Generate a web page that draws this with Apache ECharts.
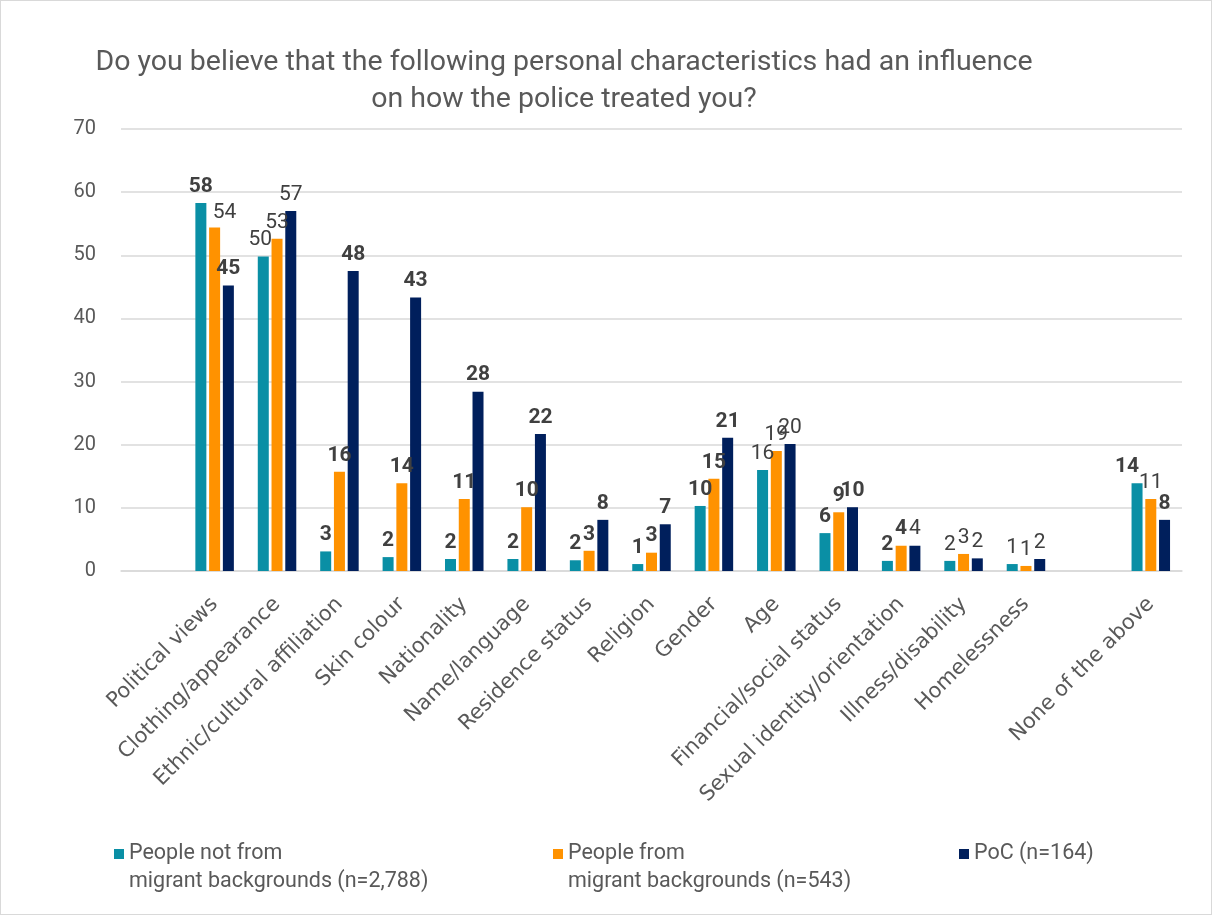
<!DOCTYPE html>
<html>
<head>
<meta charset="UTF-8">
<title>Police treatment survey</title>
<script src="https://cdn.jsdelivr.net/npm/echarts@6/dist/echarts.min.js"></script>
<style>
html,body{margin:0;padding:0;background:#fff}
#main{width:1210px;height:913px;border:1px solid #d9d9d9}
</style>
</head>
<body>
<div id="main"></div>
<script>
// categories ('' = empty slots, as in the original chart)
var categories = ['', 'Political views', 'Clothing/appearance', 'Ethnic/cultural affiliation', 'Skin colour',
  'Nationality', 'Name/language', 'Residence status', 'Religion', 'Gender', 'Age',
  'Financial/social status', 'Sexual identity/orientation', 'Illness/disability', 'Homelessness',
  '', 'None of the above'];

var notMigrant = [null, 58.3, 49.8, 3.1, 2.2, 1.9, 1.9, 1.7, 1.1, 10.3, 16.0, 6.0, 1.6, 1.6, 1.1, null, 13.9];
var migrant    = [null, 54.4, 52.6, 15.7, 13.9, 11.4, 10.1, 3.2, 2.9, 14.6, 19.0, 9.3, 4.0, 2.7, 0.8, null, 11.4];
var poc        = [null, 45.2, 57.0, 47.5, 43.3, 28.4, 21.7, 8.1, 7.4, 21.1, 20.1, 10.1, 4.0, 2.0, 1.9, null, 8.1];

var seriesNames = ['People not from\nmigrant backgrounds (n=2,788)', 'People from\nmigrant backgrounds (n=543)', 'PoC (n=164)'];
var yTicks = [0, 70, 10]; // min, max, interval

// which data labels are NOT bold (style only)
var plainLabels = [
  ['Clothing/appearance', 'Age', 'Illness/disability', 'Homelessness'],
  ['Political views', 'Clothing/appearance', 'Age', 'Illness/disability', 'Homelessness', 'None of the above'],
  ['Clothing/appearance', 'Age', 'Sexual identity/orientation', 'Illness/disability', 'Homelessness']
];
// labels nudged aside like in the original (series index, category, [dx, dy])
var labelNudge = [
  [1, 'Political views', [10, 2]],
  [0, 'None of the above', [-10, 0]],
  [0, 'Clothing/appearance', [-3, 0]]
];
var colors = ['#0a8fa5', '#ff9200', '#001f5c'];

function toData(vals, k){
  return vals.map(function(v, i){
    if (v === null) return null;
    var plain = plainLabels[k].indexOf(categories[i]) >= 0;
    var lab = {fontWeight: plain ? 'normal' : 'bold'};
    labelNudge.forEach(function(n){
      if (n[0] === k && n[1] === categories[i]) lab.offset = n[2];
    });
    return {value: v, label: lab};
  });
}

var chart = echarts.init(document.getElementById('main'));
var allVals = [notMigrant, migrant, poc];
var series = allVals.map(function(vals, k){
  return {
    name: seriesNames[k],
    type: 'bar',
    barWidth: 11,
    barGap: '25%',
    itemStyle: {color: colors[k]},
    label: {
      show: true,
      position: 'top',
      distance: 6,
      fontFamily: 'Roboto',
      fontSize: 21,
      color: '#404040',
      formatter: function(p){ return Math.round(p.value); }
    },
    data: toData(vals, k)
  };
});

// first two legend names have two lines: pad an empty line on top so the
// marker sits next to the first line
var legendLeft = [108, 547, 953];
var legends = seriesNames.map(function(n, k){
  var twoLines = n.indexOf('\n') >= 0;
  return {
    data: [n],
    left: legendLeft[k],
    top: twoLines ? 806 : 834,
    itemWidth: 10,
    itemHeight: 10,
    itemGap: 0,
    icon: 'rect',
    formatter: function(name){ return twoLines ? ' \n' + name : name; },
    textStyle: {fontFamily: 'Roboto', fontSize: 21.5, color: '#595959', lineHeight: 28}
  };
});

chart.setOption({
  animation: false,
  textStyle: {fontFamily: 'Roboto'},
  title: {
    text: 'Do you believe that the following personal characteristics had an influence\non how the police treated you?',
    left: 558,
    textAlign: 'center',
    top: 38,
    textStyle: {fontFamily: 'Roboto', fontSize: 28.5, fontWeight: 'normal', color: '#595959', lineHeight: 37}
  },
  legend: legends,
  grid: {left: 120, right: 29, top: 128, bottom: 343},
  xAxis: {
    type: 'category',
    data: categories,
    axisTick: {show: false},
    axisLine: {lineStyle: {color: '#d9d9d9', width: 1.5}},
    axisLabel: {interval: 0, rotate: 45, margin: 30, fontFamily: 'DejaVu Sans', fontSize: 21, color: '#595959'}
  },
  yAxis: {
    type: 'value',
    min: yTicks[0],
    max: yTicks[1],
    interval: yTicks[2],
    axisLabel: {fontFamily: 'Roboto', fontSize: 20, color: '#595959', margin: 25},
    splitLine: {lineStyle: {color: '#d9d9d9', width: 1.5}}
  },
  series: series
});
</script>
</body>
</html>
